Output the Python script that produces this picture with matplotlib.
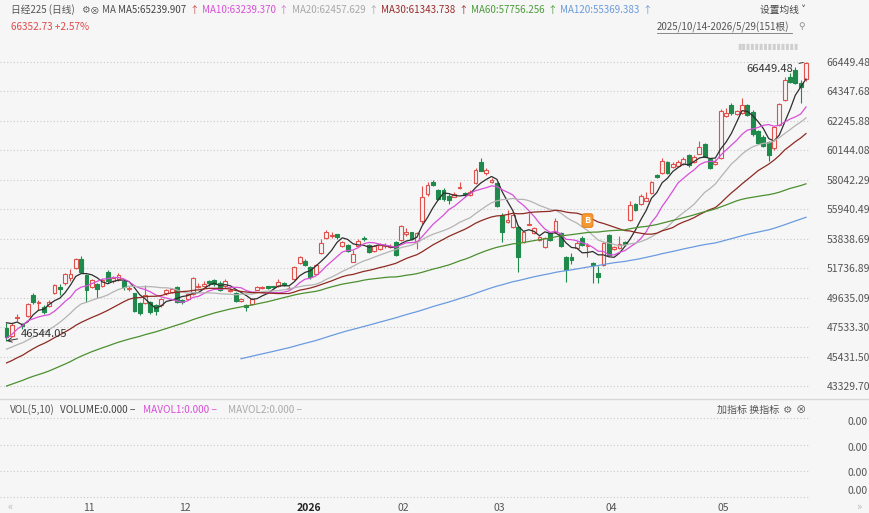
import matplotlib
matplotlib.use('Agg')
import matplotlib.pyplot as plt
import numpy as np
import pandas as pd
from matplotlib.patches import Rectangle
from matplotlib.lines import Line2D

plt.rcParams['font.family'] = ['Noto Sans CJK SC', 'DejaVu Sans']

# ---------------- data ----------------
# closes before the visible window (used only for moving averages)
pre_closes = [38790, 38942, 39585, 40151, 40487, 39986, 39762, 39786, 39811, 39588,
              39689, 39821, 39646, 39570, 39460, 39678, 39663, 39901, 39819, 39774,
              41171, 41826, 41456, 40998, 40675, 40654, 41069, 40800, 40290, 40549,
              40794, 41059, 41820, 42718, 43275, 42649, 43378, 43714, 43546, 42889,
              42610, 42633, 42807, 42394, 42520, 42829, 42718, 42188, 42310, 41938,
              42580, 43019, 43644, 43459, 43838, 44372, 44768, 44902, 44790, 45303,
              45046, 45494, 45630, 45755, 45355, 44844, 44933, 44550, 44937, 45770,
              47944, 47951, 47735, 48580, 48089]

opens = [47450, 46900, 48150, 47750, 48300, 49800, 49250, 48950, 49050, 49950,
         50400, 50650, 51050, 51750, 52400, 51250, 50400, 50600, 50500, 51450,
         50800, 50950, 50800, 50250, 49950, 49250, 49250, 49350, 49100, 49100,
         49950, 50050, 50400, 49450, 49550, 49900, 50400, 50500, 50800, 50900,
         50700, 50450, 50100, 50000, 49400, 49100, 49150, 50200, 50350, 50450,
         50450, 50450, 50700, 50300, 51000, 52100, 52250, 51800, 51300, 52800,
         53900, 54000, 54150, 53320, 53390, 52200, 53350, 53900, 53400, 52950,
         53100, 53300, 53250, 53600, 53750, 54200, 54300, 53700, 55100, 57000,
         57900, 57300, 57350, 56900, 56850, 57450, 57100, 56950, 57800, 59300,
         58550, 57900, 57800, 55530, 55000, 54650, 54650, 53600, 54850, 54250,
         53750, 53250, 54250, 54300, 54250, 52540, 52550, 53180, 53900, 53300,
         52100, 51380, 51960, 54100, 53100, 53170, 53600, 55170, 56300, 56300,
         56550, 57100, 58380, 58520, 59300, 58950, 59050, 59150, 59800, 59300,
         59900, 60600, 59500, 59200, 59600, 62600, 63380, 62750, 62800, 63380,
         62880, 61500, 61100, 60740, 60300, 61950, 63740, 65400, 65900, 64950,
         65240]

highs = [47820, 47800, 48450, 47850, 49250, 49945, 49500, 49100, 49450, 50600,
         50600, 51400, 51650, 52450, 52640, 51300, 51000, 50700, 51000, 51600,
         51200, 51400, 50900, 50500, 50000, 49300, 50550, 49400, 49200, 49600,
         50250, 50350, 50450, 49550, 50000, 51100, 50700, 50800, 50900, 51000,
         50800, 51000, 50350, 50050, 49600, 49200, 49600, 50500, 50500, 50500,
         50500, 50950, 50750, 50450, 51900, 52600, 52400, 51900, 52000, 53800,
         54490, 54300, 54200, 53700, 53450, 53000, 53800, 54000, 53450, 53400,
         53500, 53500, 53450, 53700, 54800, 54600, 54350, 54300, 57600, 57900,
         58000, 57400, 57450, 57000, 57200, 57900, 57200, 57300, 58850, 59600,
         58900, 58200, 57900, 55700, 55900, 55600, 54800, 54400, 55700, 54700,
         54050, 53950, 54300, 55300, 54300, 52600, 52800, 53650, 54000, 53500,
         52170, 51900, 53600, 54200, 53300, 54000, 53700, 56550, 56400, 57000,
         57200, 57950, 58450, 59600, 59400, 59300, 59450, 59650, 59900, 59800,
         60800, 60700, 59600, 59550, 63100, 63150, 63500, 63050, 63880, 63450,
         63000, 61600, 61250, 60800, 61900, 63500, 65400, 65650, 66100, 65200,
         66449.48]

lows = [46544.05, 46800, 48000, 47400, 48250, 49200, 48750, 48500, 48950, 49900,
        49800, 50550, 50800, 51700, 51400, 49350, 50300, 49600, 50400, 50700,
        50700, 50800, 50200, 50100, 48600, 48400, 49200, 48500, 48400, 49000,
        49800, 50000, 49250, 49150, 49500, 49850, 50300, 50400, 50500, 50500,
        50100, 50350, 50050, 49300, 49300, 48700, 49100, 50150, 50250, 50250,
        50350, 50400, 50450, 50250, 50900, 52000, 51900, 51000, 51250, 52750,
        53800, 53900, 53800, 53250, 52900, 52150, 53300, 53700, 52800, 52900,
        53050, 53200, 53150, 52600, 53700, 54000, 53750, 53100, 54900, 56900,
        57600, 56600, 56550, 56300, 56800, 57400, 56850, 56900, 57750, 58650,
        58400, 57800, 56100, 53600, 54950, 54600, 51450, 53500, 54800, 54150,
        53650, 53200, 53700, 54250, 53250, 50750, 52000, 53100, 53350, 52530,
        50700, 50650, 51900, 52600, 53000, 53100, 53350, 55100, 55800, 56250,
        56500, 57050, 58150, 58450, 58450, 58900, 59000, 59100, 58950, 59250,
        59850, 59650, 58800, 59100, 59550, 62500, 62700, 62650, 62750, 62600,
        61200, 60600, 60350, 59380, 60200, 61900, 63700, 64950, 64900, 63520,
        65100]

closes = [46847, 47672, 48277, 47582, 49185, 49316, 49307, 48641, 49299, 50512,
          50219, 51307, 51325, 52411, 51497, 50212, 50883, 50276, 50912, 50842,
          51063, 51281, 50376, 50323, 48702, 48537, 49823, 48625, 48659, 49559,
          50167, 50253, 49303, 49303, 49864, 51028, 50491, 50581, 50655, 50602,
          50148, 50837, 50168, 49383, 49512, 49001, 49507, 50402, 50412, 50344,
          50408, 50750, 50526, 50339, 51832, 52518, 51961, 51117, 51940, 53549,
          54341, 54110, 53936, 53583, 52991, 52774, 53689, 53847, 52885, 53333,
          53358, 53376, 53322, 52655, 54720, 54293, 53818, 54253, 56800, 57650,
          57700, 56700, 56650, 56600, 57000, 57500, 56950, 57200, 58750, 58700,
          58750, 58000, 56200, 54320, 55200, 55500, 52500, 54300, 54900, 54600,
          53950, 53900, 53750, 55100, 53320, 51600, 52300, 53550, 53400, 53420,
          51970, 51100, 53550, 52700, 53250, 53450, 53450, 56250, 55880, 56900,
          56750, 57870, 58240, 59400, 58500, 59150, 59300, 59500, 59100, 59700,
          60400, 59700, 58900, 59300, 62950, 62810, 62810, 62950, 63380, 62670,
          61300, 60700, 60450, 59810, 61810, 63450, 65200, 65000, 64950, 64690,
          66352.73]

ma_periods = [5, 10, 20, 30, 60, 120]
ma_names = ['MA5', 'MA10', 'MA20', 'MA30', 'MA60', 'MA120']
ma_last = ['65239.907', '63239.370', '62457.629', '61343.738', '57756.256', '55369.383']
y_ticks = [66449.48, 64347.68, 62245.88, 60144.08, 58042.29, 55940.49,
           53838.69, 51736.89, 49635.09, 47533.30, 45431.50, 43329.70]
month_idx = [14, 32, 54, 73, 91, 112, 133]
month_labels = ['11', '12', '2026', '02', '03', '04', '05']
buy_idx = [109]
max_label = '66449.48'
min_label = '46544.05'

# ---------------- style ----------------
BG = '#f6f6f6'
UP = '#e2504c'
DOWN = '#1f8a4c'
ma_colors = ['#2e2e2e', '#d84fd8', '#b4b4b4', '#8e2a22', '#4b8f2f', '#6a9be0']
ma_text_colors = ['#444444', '#d84fd8', '#a8a8a8', '#9a2b2b', '#4b9a3a', '#6b9bd8']
arrow_colors = ['#c0504d', '#d070d0', '#a8a8a8', '#9a2b2b', '#4b9a3a', '#6b9bd8']
W, H = 870, 513

fig = plt.figure(figsize=(W / 100, H / 100), dpi=100)
fig.patch.set_facecolor(BG)

PPU = (66449.48 - 43329.70) / (386 - 62)
y_bot = 66449.48 - (398 - 62) * PPU
y_top = 66449.48 + (62 - 40) * PPU
x_left = -6.5 / 5.33
x_right = (810 - 6.5) / 5.33

ax = fig.add_axes([0, 1 - 398 / H, 810 / W, 358 / H])
ax.set_facecolor(BG)
ax.set_xlim(x_left, x_right)
ax.set_ylim(y_bot, y_top)
for s in ax.spines.values():
    s.set_visible(False)
ax.set_xticks([])
ax.yaxis.tick_right()
ax.set_yticks(y_ticks)
ax.set_yticklabels([f'{v:.2f}' for v in y_ticks])
ax.tick_params(axis='y', length=0, pad=12, labelsize=7.5, labelcolor='#555555')
for v in y_ticks:
    ax.axhline(v, color='#c9c9c9', lw=0.8, ls=(0, (1, 2)), zorder=0)

# candles
n = len(closes)
bw = 0.72
min_h = 0.9 * PPU
for i in range(n):
    o, h, l, c = opens[i], highs[i], lows[i], closes[i]
    up = c >= o
    col = UP if up else DOWN
    lo_b, hi_b = min(o, c), max(o, c)
    if hi_b - lo_b < min_h:
        mid = (hi_b + lo_b) / 2
        lo_b, hi_b = mid - min_h / 2, mid + min_h / 2
    ax.plot([i, i], [l, lo_b], color=col, lw=0.8, zorder=2, solid_capstyle='butt')
    ax.plot([i, i], [hi_b, h], color=col, lw=0.8, zorder=2, solid_capstyle='butt')
    ax.add_patch(Rectangle((i - bw / 2, lo_b), bw, hi_b - lo_b,
                           facecolor=(BG if up else DOWN), edgecolor=col,
                           lw=0.8, zorder=3))

# moving averages
all_c = pd.Series(pre_closes + closes, dtype=float)
xs = np.arange(n)
for p, colr in zip(ma_periods, ma_colors):
    ma = all_c.rolling(p).mean().values[len(pre_closes):]
    m = ~np.isnan(ma)
    ax.plot(xs[m], ma[m], color=colr, lw=0.9, zorder=4)

# max / min annotations
imax = int(np.argmax(highs))
imin = int(np.argmin(lows))
ax.annotate(max_label, xy=(imax, highs[imax]), xytext=(-9, -5), textcoords='offset points',
            ha='right', va='center', fontsize=8, color='#333333',
            arrowprops=dict(arrowstyle='-', color='#333333', lw=0.7), zorder=6)
ax.annotate(min_label, xy=(imin, lows[imin]), xytext=(10, 5), textcoords='offset points',
            ha='left', va='center', fontsize=8, color='#333333',
            arrowprops=dict(arrowstyle='->', color='#333333', lw=0.7,
                            shrinkA=0, shrinkB=0), zorder=6)

# buy marker
for b in buy_idx:
    ax.annotate('B', xy=(b, highs[b]), xytext=(0, 16.5), textcoords='offset points',
                ha='center', va='center', fontsize=6.5, color='white', fontweight='bold',
                bbox=dict(boxstyle='round,pad=0.25', fc='#f39a34', ec='#e8801a', lw=0.8),
                zorder=7)

# ---------------- volume panel ----------------
vax = fig.add_axes([0, 1 - 500 / H, 810 / W, 102 / H])
vax.set_facecolor(BG)
vax.set_xlim(x_left, x_right)
vax.set_ylim(0, 1)
for s in vax.spines.values():
    s.set_visible(False)
for py in [418, 445, 471, 497]:
    vax.axhline((500 - py) / 102, color='#c9c9c9', lw=0.8, ls=(0, (1, 2)))
vax.yaxis.tick_right()
vol_tick_px = [421, 447, 472, 490]
vax.set_yticks([(500 - py) / 102 for py in vol_tick_px])
vax.set_yticklabels(['0.00'] * 4)
vax.tick_params(axis='y', length=0, pad=27, labelsize=7.5, labelcolor='#555555')
vax.set_xticks([m + 0.4 for m in month_idx])
vax.set_xticklabels(month_labels)
vax.tick_params(axis='x', length=0, pad=2.5, labelsize=7.5, labelcolor='#555555')
for t, lab in zip(vax.get_xticklabels(), month_labels):
    t.set_ha('left')
    if lab == '2026':
        t.set_color('#222222')
        t.set_fontweight('bold')

# separator
fig.add_artist(Line2D([0, 1], [1 - 399 / H, 1 - 399 / H], color='#d8d8d8', lw=1.0))


# ---------------- header texts ----------------
def ftext(px, py, s, color='#555555', size=7.0, **kw):
    return fig.text(px / W, 1 - py / H, s, color=color, fontsize=size,
                    ha='left', va='center', **kw)


renderer = fig.canvas.get_renderer()
ftext(11, 10, '日经225 (日线)', '#555555')
ftext(81, 10, '⚙', '#666666', 7)
ftext(90, 10, '⊗', '#555555', 7)
ftext(102, 10, 'MA', '#555555')
x = 118
for name, val, tc, ac in zip(ma_names, ma_last, ma_text_colors, arrow_colors):
    t = ftext(x, 10, f'{name}:{val}', tc)
    x = t.get_window_extent(renderer).x1 + 3
    a = ftext(x, 10, '↑', ac)
    x = a.get_window_extent(renderer).x1 + 3

ftext(760, 10, '设置均线 ˅', '#444444')
ftext(11, 27, '66352.73 +2.57%', '#e04b4b', 7.2)
ftext(657, 27, '2025/10/14-2026/5/29(151根)', '#555555', 7)
fig.add_artist(Line2D([657 / W, 792 / W], [1 - 33 / H, 1 - 33 / H], color='#777777', lw=0.6))
ftext(798, 27, '⚲', '#888888', 6.5)
ftext(737, 47, '▮' * 14, '#cfcfcf', 5.8)

# volume header
ftext(10, 410, 'VOL(5,10)', '#555555', 7.2)
ftext(60, 410, 'VOLUME:0.000 −', '#444444', 7.2)
ftext(143, 410, 'MAVOL1:0.000 −', ma_colors[1], 7.2)
ftext(228, 410, 'MAVOL2:0.000 −', '#aaaaaa', 7.2)
ftext(717, 410, '加指标 换指标', '#555555', 7.2)
ftext(783, 410, '⚙', '#666666', 7.5)
ftext(796, 410, '⊗', '#555555', 7.5)

ftext(8, 507, '«', '#bbbbbb', 8)
ftext(856, 507, '»', '#bbbbbb', 8)

fig.savefig('out.png', dpi=100, facecolor=BG)
